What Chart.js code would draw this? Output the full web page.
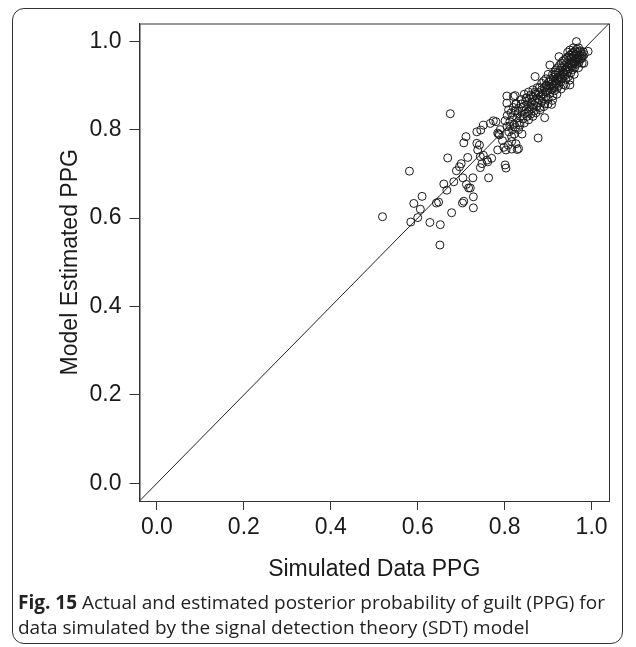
<!DOCTYPE html>
<html>
<head>
<meta charset="utf-8">
<script src="https://cdn.jsdelivr.net/npm/chart.js@4.4.0/dist/chart.umd.min.js"></script>
<style>
  body { margin: 0; background: #fff; width: 636px; height: 647px; overflow: hidden; position: relative; }
  #frame { position: absolute; left: 12px; top: 8px; width: 609px; height: 634px; border: 1.5px solid #333; border-radius: 12px; }
  #chart { position: absolute; left: 0; top: 0; }
  #caption { position: absolute; left: 18px; top: 590px; width: 606px; font-family: "Open Sans", sans-serif; font-size: 19px; line-height: 25px; color: #222; }
  #caption b { font-weight: 700; }
</style>
</head>
<body>
<div id="frame"></div>
<canvas id="chart" width="636" height="592"></canvas>
<div id="caption"><b>Fig. 15</b> Actual and estimated posterior probability of guilt (PPG) for data simulated by the signal detection theory (SDT) model</div>
<script>
// valores (x = simulado, y = estimado)
const tickValues = [0, 0.2, 0.4, 0.6, 0.8, 1.0];
const tickLabels = ["0.0", "0.2", "0.4", "0.6", "0.8", "1.0"];
const axisMin = -0.04;
const axisMax = 1.04;

const sparsePoints = [
  [0.519,0.603],[0.581,0.706],[0.584,0.591],[0.591,0.633],[0.600,0.601],[0.606,0.620],
  [0.610,0.649],[0.628,0.590],[0.643,0.634],[0.648,0.636],[0.652,0.585],[0.651,0.539],
  [0.660,0.677],[0.667,0.663],[0.669,0.736],[0.675,0.836],[0.678,0.612],[0.683,0.682],
  [0.689,0.707],[0.696,0.716],[0.700,0.723],[0.703,0.634],[0.706,0.638],[0.704,0.691],
  [0.706,0.770],[0.711,0.784],[0.712,0.676],[0.715,0.737],[0.717,0.668],[0.721,0.668],
  [0.727,0.691],[0.728,0.648],[0.728,0.623],[0.736,0.795],[0.736,0.769],[0.738,0.754],
  [0.742,0.765],[0.744,0.739],[0.744,0.714],[0.745,0.799],[0.748,0.723]
];

const midPoints = [
  [0.751,0.810],[0.751,0.742],[0.759,0.731],[0.761,0.727],[0.763,0.691],[0.767,0.814],
  [0.770,0.735],[0.774,0.820],[0.780,0.818],[0.784,0.754],[0.786,0.790],[0.788,0.788],
  [0.790,0.800],[0.784,0.792],[0.795,0.775],[0.798,0.760],[0.801,0.720],[0.803,0.713],
  [0.803,0.754],[0.805,0.807],[0.805,0.876],[0.805,0.860],[0.808,0.765],[0.810,0.795],
  [0.812,0.808],[0.816,0.784],[0.816,0.773],[0.816,0.756],[0.818,0.800],[0.820,0.875],
  [0.822,0.790],[0.824,0.877],[0.826,0.859],[0.825,0.805],[0.826,0.768],[0.829,0.755],
  [0.832,0.757],[0.832,0.800],[0.835,0.810],[0.840,0.790],[0.877,0.781],[0.850,0.871],
  [0.845,0.880],[0.838,0.868]
];

const densePoints = [
  [0.801,0.820],[0.806,0.832],[0.809,0.845],[0.812,0.818],[0.815,0.838],[0.818,0.829],
  [0.820,0.850],[0.822,0.812],[0.824,0.842],[0.826,0.857],[0.828,0.826],[0.830,0.836],
  [0.832,0.848],[0.834,0.815],[0.836,0.830],[0.838,0.858],[0.840,0.842],[0.842,0.824],
  [0.844,0.852],[0.846,0.836],[0.848,0.864],[0.850,0.846],[0.852,0.830],[0.853,0.858],
  [0.855,0.840],[0.857,0.870],[0.858,0.852],[0.860,0.835],[0.862,0.862],[0.863,0.848],
  [0.865,0.875],[0.867,0.856],[0.868,0.842],[0.870,0.866],[0.871,0.880],[0.873,0.852],
  [0.875,0.870],[0.876,0.860],[0.878,0.884],[0.880,0.868],[0.881,0.850],[0.883,0.876],
  [0.885,0.890],[0.886,0.864],[0.888,0.880],[0.889,0.870],[0.891,0.895],[0.892,0.858],
  [0.894,0.885],[0.895,0.874],[0.897,0.900],[0.898,0.888],[0.900,0.870],[0.901,0.894],
  [0.902,0.908],[0.904,0.882],[0.905,0.898],[0.907,0.912],[0.908,0.890],[0.909,0.904],
  [0.911,0.876],[0.912,0.918],[0.913,0.900],[0.915,0.888],[0.916,0.910],[0.917,0.924],
  [0.919,0.902],[0.920,0.915],[0.921,0.894],[0.923,0.928],[0.924,0.912],[0.925,0.900],
  [0.927,0.920],[0.928,0.934],[0.929,0.908],[0.931,0.924],[0.932,0.940],[0.933,0.916],
  [0.935,0.930],[0.936,0.902],[0.937,0.945],[0.939,0.922],[0.940,0.936],[0.941,0.914],
  [0.943,0.950],[0.944,0.930],[0.945,0.942],[0.947,0.920],[0.948,0.956],[0.949,0.938],
  [0.951,0.948],[0.952,0.928],[0.953,0.962],[0.955,0.944],[0.956,0.955],[0.957,0.936],
  [0.959,0.966],[0.960,0.950],[0.961,0.940],[0.963,0.960],[0.964,0.970],[0.965,0.948],
  [0.967,0.958],[0.968,0.975],[0.969,0.962],[0.971,0.952],[0.972,0.968],[0.974,0.978],
  [0.975,0.960],[0.977,0.972],[0.979,0.966],[0.981,0.976],[0.983,0.970],
  [0.905,0.915],[0.910,0.925],[0.915,0.930],[0.918,0.935],[0.922,0.940],[0.926,0.945],
  [0.930,0.950],[0.934,0.955],[0.938,0.958],[0.942,0.962],[0.946,0.965],[0.950,0.968],
  [0.954,0.972],[0.958,0.975],[0.962,0.978],[0.966,0.982],[0.970,0.985],[0.958,0.985],
  [0.950,0.980],[0.945,0.975],[0.912,0.895],[0.918,0.905],[0.924,0.918],[0.930,0.915],
  [0.936,0.925],[0.942,0.935],[0.948,0.942],[0.954,0.950],[0.960,0.955],[0.966,0.962],
  [0.972,0.958],[0.978,0.962],[0.880,0.895],[0.885,0.905],[0.890,0.910],[0.895,0.915],
  [0.900,0.925],[0.895,0.900],[0.875,0.895],[0.870,0.885],[0.865,0.890],[0.860,0.878],
  [0.855,0.885],[0.850,0.872],[0.845,0.815],[0.855,0.822],[0.865,0.830],[0.872,0.838],
  [0.882,0.845],[0.890,0.852],[0.900,0.858],[0.910,0.866],[0.920,0.880],[0.930,0.892],
  [0.940,0.900],[0.950,0.912],[0.960,0.925],[0.970,0.940],[0.978,0.950],[0.982,0.950],
  [0.992,0.977],[0.965,0.999],[0.925,0.965],[0.904,0.946],[0.870,0.920],[0.908,0.857],
  [0.892,0.827],[0.950,0.901]
];

const allPoints = sparsePoints.concat(midPoints, densePoints).map(p => ({ x: p[0], y: p[1] }));
const fontTxt = { family: "'Liberation Sans', Arial, sans-serif", size: 23 };
const ink = "#1a1a1a";

// caja completa del grafico como en R
const boxPlugin = {
  id: "box",
  afterDraw(chart) {
    const a = chart.chartArea;
    const ctx = chart.ctx;
    ctx.save();
    ctx.strokeStyle = "#333";
    ctx.lineWidth = 1;
    ctx.strokeRect(a.left + 0.5, a.top + 0.5, a.right - a.left, a.bottom - a.top);
    ctx.restore();
  }
};

function fixTicks(scale) {
  scale.ticks = tickValues.map(v => ({ value: v }));
}

new Chart(document.getElementById("chart"), {
  type: "scatter",
  data: {
    datasets: [
      {
        data: allPoints,
        pointRadius: 4,
        pointBorderWidth: 1,
        pointBorderColor: "#1a1a1a",
        pointBackgroundColor: "rgba(0,0,0,0)",
        pointHoverRadius: 4
      },
      {
        type: "line",
        data: [{ x: axisMin, y: axisMin }, { x: axisMax, y: axisMax }],
        borderColor: "#222",
        borderWidth: 1,
        pointRadius: 0
      }
    ]
  },
  options: {
    responsive: false,
    animation: false,
    layout: { padding: { left: 57, top: 23.5, right: 27, bottom: 0 } },
    plugins: { legend: { display: false }, tooltip: { enabled: false } },
    scales: {
      x: {
        type: "linear",
        min: axisMin,
        max: axisMax,
        afterBuildTicks: fixTicks,
        afterFit(scale) { scale.height = 91; },
        border: { display: true, color: "#333", width: 1 },
        grid: { drawOnChartArea: false, drawTicks: true, tickLength: 9, color: "#333" },
        ticks: {
          color: ink, font: fontTxt, padding: 4, maxRotation: 0,
          callback: (v) => tickLabels[tickValues.indexOf(v)]
        },
        title: { display: true, text: "Simulated Data PPG", color: ink, font: fontTxt, padding: { top: 0, bottom: 9 } }
      },
      y: {
        type: "linear",
        min: axisMin,
        max: axisMax,
        afterBuildTicks: fixTicks,
        afterFit(scale) { scale.width = 82.5; },
        border: { display: true, color: "#333", width: 1 },
        grid: { drawOnChartArea: false, drawTicks: true, tickLength: 10, color: "#333" },
        ticks: {
          color: ink, font: fontTxt, padding: 8,
          callback: (v) => tickLabels[tickValues.indexOf(v)]
        },
        title: { display: true, text: "Model Estimated PPG", color: ink, font: fontTxt, padding: { top: 0, bottom: 0 } }
      }
    }
  },
  plugins: [boxPlugin]
});
</script>
</body>
</html>
